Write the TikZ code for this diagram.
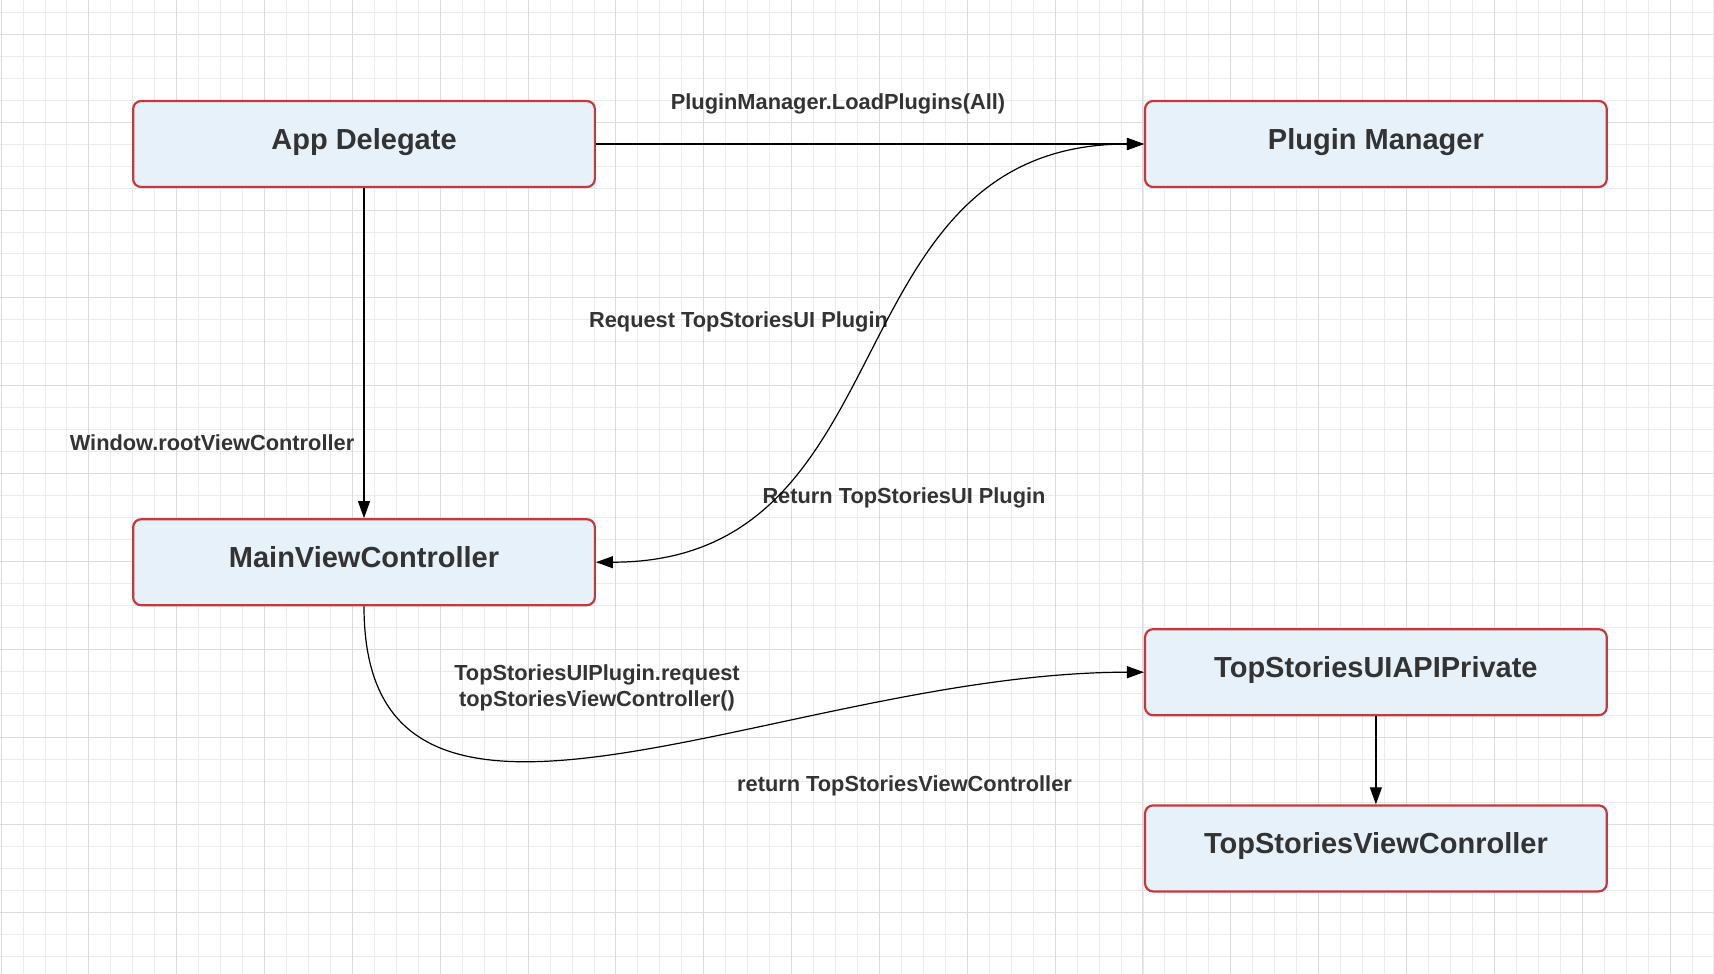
\documentclass[tikz,border=0pt]{standalone}
\usepackage{fontspec}
\setmainfont{Liberation Sans}
\usetikzlibrary{positioning}
\usetikzlibrary{arrows.meta}
\definecolor{boxfill}{HTML}{E6F1FA}
\definecolor{boxline}{HTML}{C4393E}
\definecolor{textgray}{HTML}{333333}
\definecolor{gridminor}{HTML}{EBEBEB}
\definecolor{gridmajor}{HTML}{DCDCDC}

\begin{document}
\begin{tikzpicture}
[
x=1pt, y=-1pt,
box-a/.style={rectangle,draw=boxline,fill=boxfill,line width=2.2pt,rounded corners=8pt,
  minimum width=461.7pt,minimum height=86pt,inner sep=0pt,text=textgray,
  font=\fontsize{29}{34}\selectfont\bfseries,text height=21pt,text depth=11pt},
text-a/.style={text=textgray,inner sep=0pt,font=\fontsize{21.8}{26}\selectfont\bfseries},
arrow-a/.style={-{Triangle[length=17pt,width=12pt]},line width=1.2pt},
arrow-b/.style={{Triangle[length=17pt,width=12pt]}-{Triangle[length=17pt,width=12pt]},line width=1.2pt},
]
\useasboundingbox (0,0) rectangle (1714,974);
% grid
\fill [white] (0,0) rectangle (1714,974);
\foreach \i in {0,...,78} \draw [gridminor,line width=0.8pt] (1+\i*21.96,0) -- ++(0,974);
\foreach \j in {0,...,44} \draw [gridminor,line width=0.8pt] (0,12.3+\j*21.96) -- ++(1714,0);
\foreach \i in {0,...,19} \draw [gridmajor,line width=0.9pt] (1+\i*87.84,0) -- ++(0,974);
\foreach \j in {0,...,10} \draw [gridmajor,line width=0.9pt] (0,34.3+\j*87.84) -- ++(1714,0);
% boxes
\node (n1) [box-a] at (364,144)         {App Delegate};
\node (n2) [box-a, right = 548pt of n1] {Plugin Manager};
\node (n3) [box-a, below = 330pt of n1] {MainViewController};
\node (n4) [box-a, below = 440pt of n2] {TopStoriesUIAPIPrivate};
\node (n5) [box-a, below = 88pt of n4]  {TopStoriesViewConroller};
% labels
\node (l1) [text-a] at (838,103.5)   {PluginManager.LoadPlugins(All)};
\node (l2) [text-a] at (212,443)     {Window.rootViewController};
\node (l3) [text-a] at (738.5,321.5) {Request TopStoriesUI Plugin};
\node (l4) [text-a] at (904,497.5)   {Return TopStoriesUI Plugin};
\node (l5) [text-a, align=center] at (597,688) {TopStoriesUIPlugin.request\\topStoriesViewController()};
\node (l6) [text-a] at (904.5,785.5) {return TopStoriesViewController};
% connectors
\draw [arrow-a] (n1) -- (n2);
\draw [arrow-a] (n1) -- (n3);
\draw [arrow-b] (n3.east) .. controls +(317,0) and +(-317,0) .. (n2.west);
\draw [arrow-a] (n3.south) .. controls +(0,306) and +(-361,0) .. (n4.west);
\draw [arrow-a] (n4) -- (n5);
\end{tikzpicture}
\end{document}
